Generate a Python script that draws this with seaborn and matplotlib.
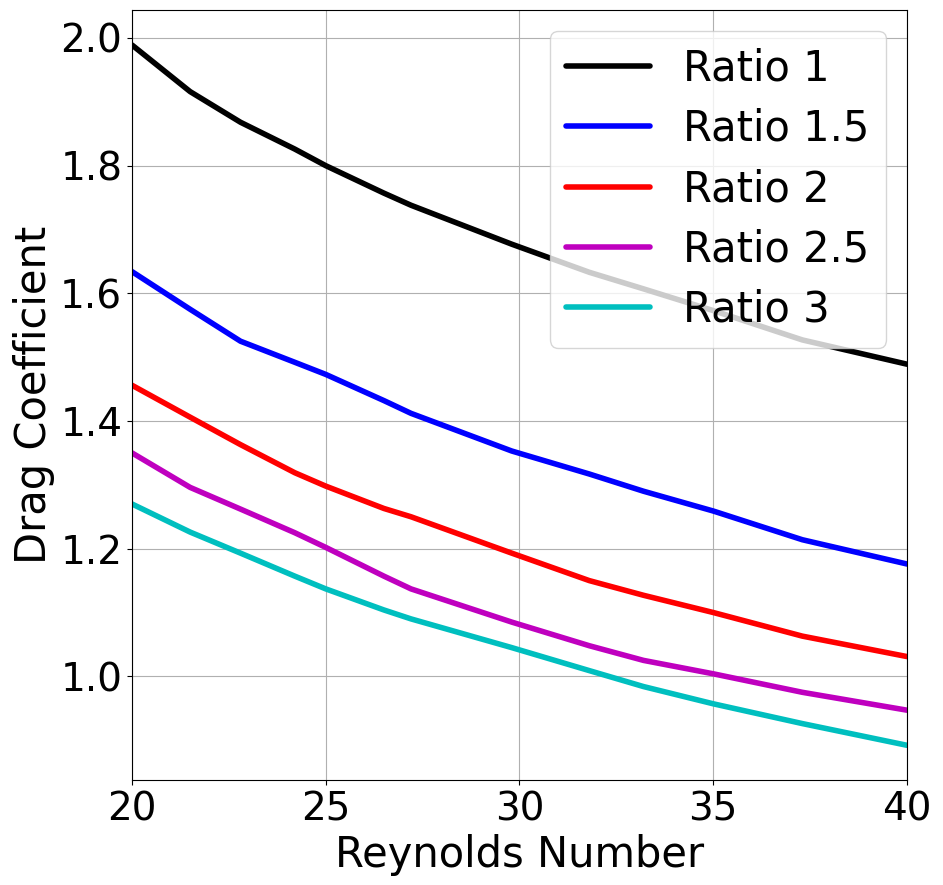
import numpy as np
import pandas as pd
import matplotlib
matplotlib.use("Agg")
import matplotlib.pyplot as plt
import seaborn as sns

# Reynolds numbers sampled
reynolds = [20, 21.5, 22.8, 24.2, 25, 26.5, 27.2, 29.8, 31.8, 33.2, 35, 37.3, 40]

# Drag coefficient for each aspect ratio
cd_ratio_1 = [1.989, 1.916, 1.868, 1.826, 1.800, 1.757, 1.738, 1.677, 1.633, 1.607, 1.573, 1.527, 1.489]
cd_ratio_15 = [1.634, 1.575, 1.525, 1.492, 1.473, 1.432, 1.412, 1.353, 1.317, 1.290, 1.259, 1.214, 1.176]
cd_ratio_2 = [1.456, 1.406, 1.363, 1.319, 1.298, 1.263, 1.250, 1.193, 1.150, 1.127, 1.100, 1.063, 1.031]
cd_ratio_25 = [1.350, 1.296, 1.262, 1.225, 1.202, 1.157, 1.137, 1.085, 1.048, 1.025, 1.004, 0.975, 0.947]
cd_ratio_3 = [1.270, 1.226, 1.193, 1.157, 1.137, 1.104, 1.090, 1.045, 1.009, 0.984, 0.957, 0.926, 0.892]

labels = ["Ratio 1", "Ratio 1.5", "Ratio 2", "Ratio 2.5", "Ratio 3"]
series = [cd_ratio_1, cd_ratio_15, cd_ratio_2, cd_ratio_25, cd_ratio_3]
colors = ["k", "b", "r", "m", "c"]

# Long-form table for seaborn
df = pd.concat(
    [pd.DataFrame({"Re": reynolds, "Cd": vals, "ratio": lab}) for lab, vals in zip(labels, series)],
    ignore_index=True,
)

sns.set_style("ticks")
plt.rcParams['font.family'] = ['DejaVu Sans']
plt.rcParams['text.color'] = 'black'
plt.rcParams['axes.labelcolor'] = 'black'
plt.rcParams['xtick.color'] = 'black'
plt.rcParams['ytick.color'] = 'black'

fig, ax = plt.subplots(figsize=(9.43, 8.85), dpi=100)
fig.subplots_adjust(left=0.14, right=0.9618, top=0.9887, bottom=0.1183)

sns.lineplot(data=df, x="Re", y="Cd", hue="ratio", hue_order=labels,
             palette=dict(zip(labels, colors)), linewidth=4, ax=ax, sort=False)

ax.set_xlim(20, 40)
ax.set_xticks([20, 25, 30, 35, 40])
ax.set_yticks([1.0, 1.2, 1.4, 1.6, 1.8, 2.0])
ax.grid(True, color="#b0b0b0", linewidth=0.8)
ax.tick_params(labelsize=28, length=3.5, width=0.8, direction="out")
for s in ax.spines.values():
    s.set_visible(True)
    s.set_color("black")
    s.set_linewidth(0.8)

ax.set_xlabel("Reynolds Number", fontsize=30)
ax.set_ylabel("Drag Coefficient", fontsize=30)
ax.legend(loc="upper right", fontsize=30, title=None, framealpha=0.8, labelspacing=0.44)

plt.savefig("out.png", dpi=100)
plt.close()
